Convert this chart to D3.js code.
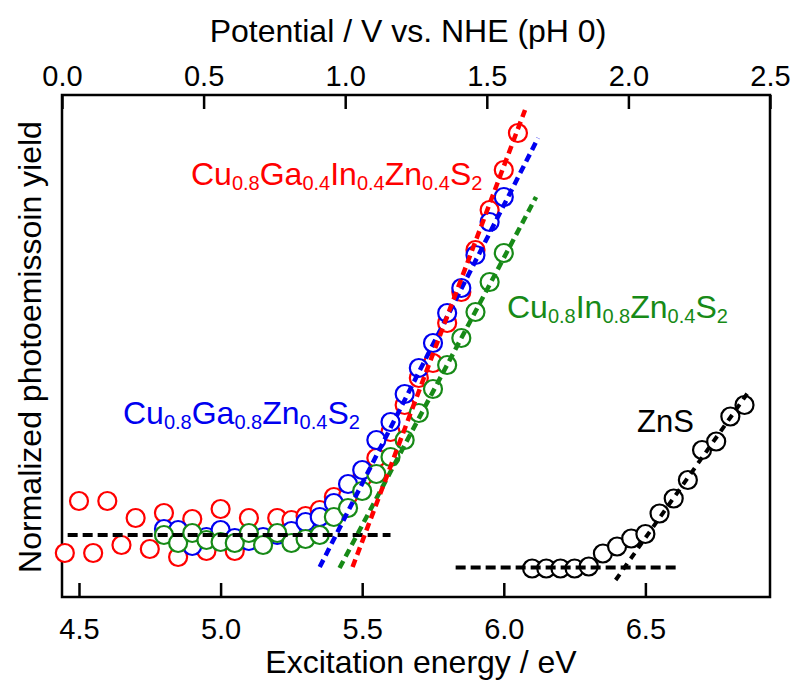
<!DOCTYPE html>
<html>
<head>
<meta charset="utf-8">
<script src="https://cdn.jsdelivr.net/npm/d3@7"></script>
<style>
  body { margin: 0; background: #fff; }
  svg text { font-family: "Liberation Sans", Arial, Helvetica, sans-serif; }
</style>
</head>
<body>
<svg id="chart" width="794" height="682"></svg>
<script>
// Photoemission yield vs excitation energy, with a potential (V vs NHE) axis on top.

const energyRed = [4.45, 4.50, 4.55, 4.60, 4.65, 4.70, 4.75, 4.80, 4.85, 4.90, 4.95, 5.00, 5.05, 5.10, 5.15, 5.20,
  5.25, 5.30, 5.35, 5.40, 5.45, 5.50, 5.55, 5.60, 5.65, 5.70, 5.75, 5.80, 5.85, 5.90, 5.95, 6.00, 6.05];
const yieldRed = [8.8, 19.2, 8.8, 19.2, 10.4, 15.8, 9.6, 16.8, 8.0, 15.6, 9.2, 17.6, 9.2, 15.8, 11.4, 15.8,
  15.4, 16.2, 17.4, 20.0, 20.2, 23.8, 27.8, 33.0, 38.4, 43.8, 46.8, 54.8, 61.0, 69.4, 77.4, 85.4, 92.8];

const energyBlue = [4.80, 4.85, 4.90, 4.95, 5.00, 5.05, 5.10, 5.15, 5.20, 5.25, 5.30, 5.35, 5.40, 5.45, 5.50,
  5.55, 5.60, 5.65, 5.70, 5.75, 5.80, 5.85, 5.90, 5.95, 6.00];
const yieldBlue = [13.6, 13.4, 10.2, 12.0, 13.4, 11.8, 11.2, 12.0, 12.4, 13.2, 15.0, 16.0, 18.8, 22.6, 25.4,
  31.4, 35.0, 40.6, 45.8, 50.8, 56.8, 61.8, 68.4, 75.0, 80.0];

const energyGreen = [4.80, 4.85, 4.90, 4.95, 5.00, 5.05, 5.10, 5.15, 5.20, 5.25, 5.30, 5.35, 5.40, 5.45, 5.50,
  5.55, 5.60, 5.65, 5.70, 5.75, 5.80, 5.85, 5.90, 5.95, 6.00];
const yieldGreen = [12.4, 10.8, 12.8, 11.4, 11.0, 10.8, 12.8, 10.4, 12.8, 10.8, 11.6, 12.4, 16.0, 17.8, 21.2,
  24.6, 28.0, 31.4, 36.8, 41.6, 46.4, 51.8, 57.0, 63.0, 68.8];

const energyZnS = [6.10, 6.15, 6.20, 6.25, 6.30, 6.35, 6.40, 6.45, 6.50, 6.55, 6.60, 6.65, 6.70, 6.75, 6.80, 6.85];
const yieldZnS = [5.7, 5.7, 5.7, 5.7, 6.1, 8.7, 10.1, 11.7, 12.6, 16.7, 19.7, 23.4, 29.4, 31.1, 36.1, 38.4];

// dashed guide lines: [E1, y1, E2, y2]
const fitRed = [5.466, 6.0, 6.075, 97.4];
const fitBlue = [5.35, 6.0, 6.121, 91.8];
const fitGreen = [5.42, 5.8, 6.114, 80.0];
const fitZnS = [6.395, 3.4, 6.865, 41.1];
const baseCu = [4.46, 12.4, 5.60, 12.4];
const baseZnS = [5.83, 5.9, 6.62, 5.9];

const energyTicks = [4.5, 5.0, 5.5, 6.0, 6.5];
const potentialTicks = [0.0, 0.5, 1.0, 1.5, 2.0, 2.5];

const RED = '#ff0000', BLUE = '#0000f0', GREEN = '#178a17';

const svg = d3.select('#chart');
const pL = 62, pR = 770, pT = 95, pB = 597;

const x = d3.scaleLinear().domain([4.44, 6.94]).range([pL, pR]);
const xTop = d3.scaleLinear().domain([0, 2.5]).range([pL, pR]);
const y = d3.scaleLinear().domain([0, 100.4]).range([pB, pT]);

// axes (ticks point inward)
const gB = svg.append('g').attr('transform', `translate(0,${pB})`)
  .call(d3.axisBottom(x).tickValues(energyTicks).tickFormat(d3.format('.1f'))
    .tickSizeInner(-14).tickSizeOuter(0).tickPadding(21));
const gT = svg.append('g').attr('transform', `translate(0,${pT})`)
  .call(d3.axisTop(xTop).tickValues(potentialTicks).tickFormat(d3.format('.1f'))
    .tickSizeInner(-14).tickSizeOuter(0).tickPadding(9));
[gB, gT].forEach(g => {
  g.select('.domain').remove();
  g.selectAll('line').attr('stroke', '#000').attr('stroke-width', 2.5);
  g.selectAll('text').attr('font-size', 29).attr('fill', '#000')
    .style('font-family', '"Liberation Sans", Arial, sans-serif');
});

svg.append('rect')
  .attr('x', pL).attr('y', pT).attr('width', pR - pL).attr('height', pB - pT)
  .attr('fill', 'none').attr('stroke', '#000').attr('stroke-width', 2.5);

// markers
function drawSeries(es, ys, color) {
  svg.append('g').selectAll('circle')
    .data(es.map((e, i) => [e, ys[i]]))
    .join('circle')
    .attr('cx', d => x(d[0]))
    .attr('cy', d => y(d[1]))
    .attr('r', 9)
    .attr('fill', '#fff')
    .attr('stroke', color)
    .attr('stroke-width', 2.2);
}
drawSeries(energyRed, yieldRed, RED);
drawSeries(energyBlue, yieldBlue, BLUE);
drawSeries(energyGreen, yieldGreen, GREEN);
drawSeries(energyZnS, yieldZnS, '#000');

// dashed lines
function drawLine(l, color, dash, w) {
  svg.append('line')
    .attr('x1', x(l[0])).attr('y1', y(l[1]))
    .attr('x2', x(l[2])).attr('y2', y(l[3]))
    .attr('stroke', color).attr('stroke-width', w)
    .attr('stroke-dasharray', dash);
}
drawLine(baseCu, '#000', '10,5', 4);
drawLine(baseZnS, '#000', '10,5', 4);
drawLine(fitBlue, BLUE, '8,5', 4.5);
drawLine(fitGreen, GREEN, '8,5', 4.5);
drawLine(fitRed, RED, '8,5', 4.5);
drawLine(fitZnS, '#000', '7,6', 4);

// formula labels with subscripts
function formula(xp, yp, parts, color) {
  const t = svg.append('text').attr('x', xp).attr('y', yp).attr('fill', color).attr('font-size', 32);
  parts.forEach((p, i) => {
    t.append('tspan').attr('dy', i === 0 ? 0 : -5).text(p[0]);
    t.append('tspan').attr('font-size', 20).attr('dy', 5).text(p[1]);
  });
}
formula(191, 185, [['Cu', '0.8'], ['Ga', '0.4'], ['In', '0.4'], ['Zn', '0.4'], ['S', '2']], RED);
formula(123, 424, [['Cu', '0.8'], ['Ga', '0.8'], ['Zn', '0.4'], ['S', '2']], BLUE);
formula(507, 318, [['Cu', '0.8'], ['In', '0.8'], ['Zn', '0.4'], ['S', '2']], GREEN);
svg.append('text').attr('x', 637).attr('y', 432).attr('font-size', 31).text('ZnS');

// axis titles
svg.append('text').attr('x', 408).attr('y', 42).attr('text-anchor', 'middle')
  .attr('font-size', 32).text('Potential / V vs. NHE (pH 0)');
svg.append('text').attr('x', 421).attr('y', 673).attr('text-anchor', 'middle')
  .attr('font-size', 32).text('Excitation energy / eV');
svg.append('text').attr('transform', 'translate(41,347) rotate(-90)').attr('text-anchor', 'middle')
  .attr('font-size', 32).text('Normalized photoemissoin yield');
</script>
</body>
</html>
